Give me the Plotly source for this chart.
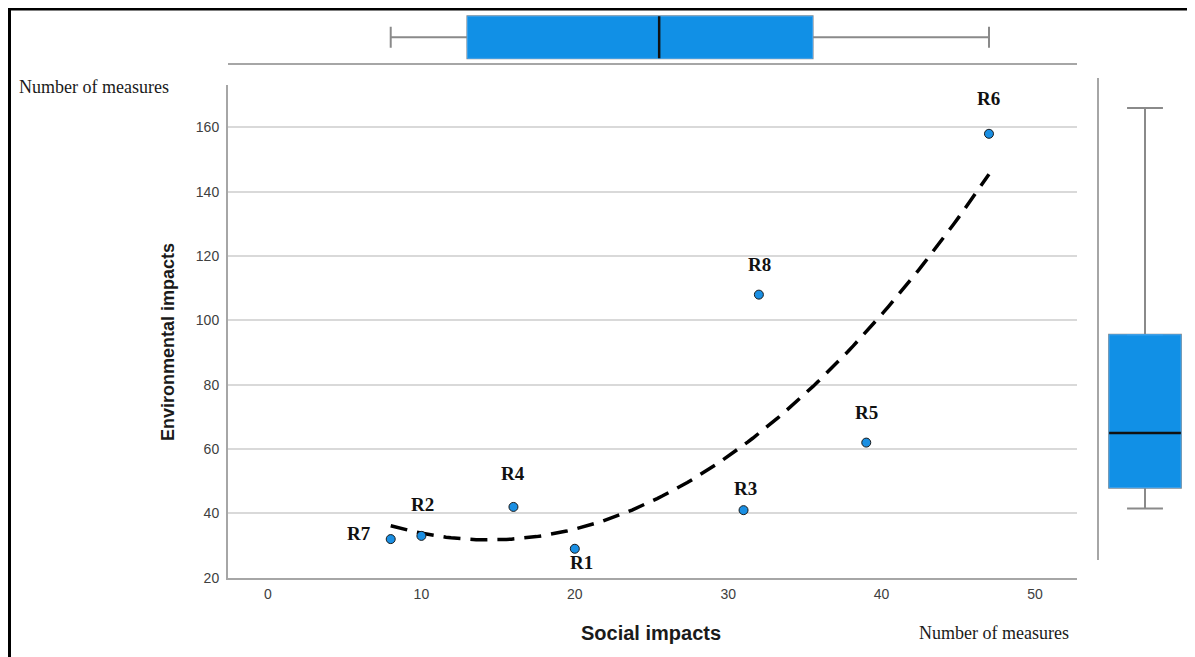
import numpy as np
import plotly.graph_objects as go

# ---------------- data ----------------
labels = ["R1", "R2", "R3", "R4", "R5", "R6", "R7", "R8"]
social = [20, 10, 31, 16, 39, 47, 8, 32]
environmental = [29, 33, 41, 42, 62, 158, 32, 108]
# label offsets (px) relative to each point
label_dx = [7, 1, 2, 0, 0, 0, -32, 1]
label_dy = [-14, 31, 22, 33, 30, 35, 6, 30]

# right marginal box (values as drawn): lowerfence, q1, median, q3, upperfence
right_box_stats = [41.5, 48, 65, 95.5, 166]

x_ticks = [0, 10, 20, 30, 40, 50]
y_ticks = [20, 40, 60, 80, 100, 120, 140, 160]

# page has an 8px body margin
OFF = 8
W = 1195 - OFF
H = 657
HE = 657 - OFF          # effective drawn height
def PX(p): return (p - OFF) / W
def PY(p): return 1 - (p - OFF) / HE

BLUE = "#1190e6"
GRAY = "#8a8a8a"
AXIS = "#a6a6a6"

def hinges(v):
    s = sorted(v)
    n = len(s)
    lo = s[: n // 2]
    hi = s[(n + 1) // 2:]
    return float(np.median(lo)), float(np.median(s)), float(np.median(hi)), s[0], s[-1]

fig = go.Figure()

# ---------------- quadratic fit ----------------
coef = np.polyfit(social, environmental, 2)
xs = np.linspace(min(social), max(social), 120)
fig.add_trace(go.Scatter(x=xs, y=np.polyval(coef, xs), mode="lines",
                         line=dict(color="black", width=3.5, dash="17px,10px"),
                         hoverinfo="skip", showlegend=False))

# ---------------- scatter ----------------
fig.add_trace(go.Scatter(x=social, y=environmental, mode="markers",
                         marker=dict(size=9, color="#1a8fe3",
                                     line=dict(color="#1a1a1a", width=1)),
                         showlegend=False))

for lab, xv, yv, dx, dy in zip(labels, social, environmental, label_dx, label_dy):
    fig.add_annotation(x=xv, y=yv, xref="x", yref="y", text=lab, showarrow=False,
                       xshift=dx, yshift=dy, xanchor="center", yanchor="middle",
                       font=dict(family="Liberation Serif, Times New Roman, serif",
                                 size=19, color="#111111", weight="bold"))

# ---------------- top marginal box (social) ----------------
q1, med, q3, lo, hi = hinges(social)
fig.add_trace(go.Box(x=social, y=[0] * len(social), orientation="h", xaxis="x2", yaxis="y2",
                     quartilemethod="exclusive", boxpoints=False, width=0.81,
                     whiskerwidth=0.5, fillcolor=BLUE, line=dict(color=GRAY, width=2),
                     showlegend=False, hoverinfo="skip"))
fig.add_trace(go.Box(q1=[q1], median=[med], q3=[q3], lowerfence=[q1], upperfence=[q3],
                     y=[0], orientation="h", xaxis="x2", yaxis="y2", width=0.81,
                     fillcolor=BLUE, line=dict(color="#3ea2ec", width=1),
                     showlegend=False, hoverinfo="skip"))
fig.add_trace(go.Box(q1=[med], median=[med], q3=[med], lowerfence=[med], upperfence=[med],
                     y=[0], orientation="h", xaxis="x2", yaxis="y2", width=0.81,
                     fillcolor="rgba(0,0,0,0)", line=dict(color="#111111", width=2.5),
                     showlegend=False, hoverinfo="skip"))

# ---------------- right marginal box (environmental) ----------------
rlo, rq1, rmed, rq3, rhi = right_box_stats
fig.add_trace(go.Box(q1=[rq1], median=[rmed], q3=[rq3], lowerfence=[rlo], upperfence=[rhi],
                     x=[0], xaxis="x3", yaxis="y3", width=0.78, whiskerwidth=0.5,
                     fillcolor=BLUE, line=dict(color=GRAY, width=2),
                     showlegend=False, hoverinfo="skip"))
fig.add_trace(go.Box(q1=[rq1], median=[rmed], q3=[rq3], lowerfence=[rq1], upperfence=[rq3],
                     x=[0], xaxis="x3", yaxis="y3", width=0.78,
                     fillcolor=BLUE, line=dict(color="#3ea2ec", width=1),
                     showlegend=False, hoverinfo="skip"))
fig.add_trace(go.Box(q1=[rmed], median=[rmed], q3=[rmed], lowerfence=[rmed], upperfence=[rmed],
                     x=[0], xaxis="x3", yaxis="y3", width=0.78,
                     fillcolor="rgba(0,0,0,0)", line=dict(color="#111111", width=2.5),
                     showlegend=False, hoverinfo="skip"))

tickfont = dict(family="Liberation Sans, Arial, sans-serif", size=14, color="#404040")

# main axes pixel geometry (window pixels)
x_px0, x_px1 = 228, 1077
x_zero, x_per = 268.0, 15.34
y_base, y_per = 577.7, 3.2167
y_top_px = 85

xr = [(x_px0 - x_zero) / x_per, (x_px1 - x_zero) / x_per]
yr = [20, 20 + (y_base - y_top_px) / y_per]
y3_px0, y3_px1 = 560, 78
y3r = [20 + (y_base - y3_px0) / y_per, 20 + (y_base - y3_px1) / y_per]

fig.update_layout(
    width=W, height=H, margin=dict(l=0, r=0, t=0, b=0),
    paper_bgcolor="white", plot_bgcolor="white", boxmode="overlay",
    showlegend=False,
    xaxis=dict(domain=[PX(x_px0), PX(x_px1)], range=xr, anchor="y",
               tickvals=x_ticks, ticks="", showgrid=False, zeroline=False,
               showline=True, linecolor=AXIS, linewidth=2, tickfont=tickfont,
               ticklabelstandoff=2),
    yaxis=dict(domain=[PY(y_base), PY(y_top_px)], range=yr, anchor="x",
               tickvals=y_ticks, ticks="", showgrid=True, gridcolor="#d9d9d9", gridwidth=2,
               zeroline=False, showline=True, linecolor=AXIS, linewidth=2,
               tickfont=tickfont, ticklabelstandoff=4),
    xaxis2=dict(domain=[PX(x_px0), PX(x_px1)], matches="x", anchor="y2",
                showticklabels=False, ticks="", showgrid=False, zeroline=False,
                showline=True, linecolor=AXIS, linewidth=2),
    yaxis2=dict(domain=[PY(63.3), PY(11.3)], range=[-0.5, 0.5], anchor="x2",
                visible=False),
    xaxis3=dict(domain=[PX(1099), PX(1191)], range=[-0.5, 0.5], anchor="y3",
                visible=False),
    yaxis3=dict(domain=[PY(y3_px0), PY(y3_px1)], range=y3r, anchor="x3",
                showticklabels=False, ticks="", showgrid=False, zeroline=False,
                showline=True, linecolor=AXIS, linewidth=2),
)

# axis titles / captions
fig.add_annotation(x=PX(651), y=PY(633), xref="paper", yref="paper", text="Social impacts",
                   showarrow=False, xanchor="center", yanchor="middle",
                   font=dict(family="Liberation Sans, Arial, sans-serif",
                             size=20, color="#1a1a1a", weight="bold"))
fig.add_annotation(x=PX(168), y=PY(342), xref="paper", yref="paper", text="Environmental impacts",
                   showarrow=False, textangle=-90, xanchor="center", yanchor="middle",
                   font=dict(family="Liberation Sans, Arial, sans-serif",
                             size=18, color="#1a1a1a", weight="bold"))
serif = dict(family="Liberation Serif, Times New Roman, serif", size=18, color="#1a1a1a")
fig.add_annotation(x=PX(17), y=PY(87), xref="paper", yref="paper", text="Number of measures",
                   showarrow=False, xanchor="left", yanchor="middle", font=serif)
fig.add_annotation(x=PX(1071), y=PY(633), xref="paper", yref="paper", text="Number of measures",
                   showarrow=False, xanchor="right", yanchor="middle", font=serif)

# outer frame (top and left border)
fig.add_shape(type="line", xref="paper", yref="paper", x0=0, x1=1,
              y0=1 - 1.3 / HE, y1=1 - 1.3 / HE, line=dict(color="black", width=2.6))
fig.add_shape(type="line", xref="paper", yref="paper", x0=1.5 / W, x1=1.5 / W,
              y0=1, y1=0, line=dict(color="black", width=3))

fig.write_html("out.html")
